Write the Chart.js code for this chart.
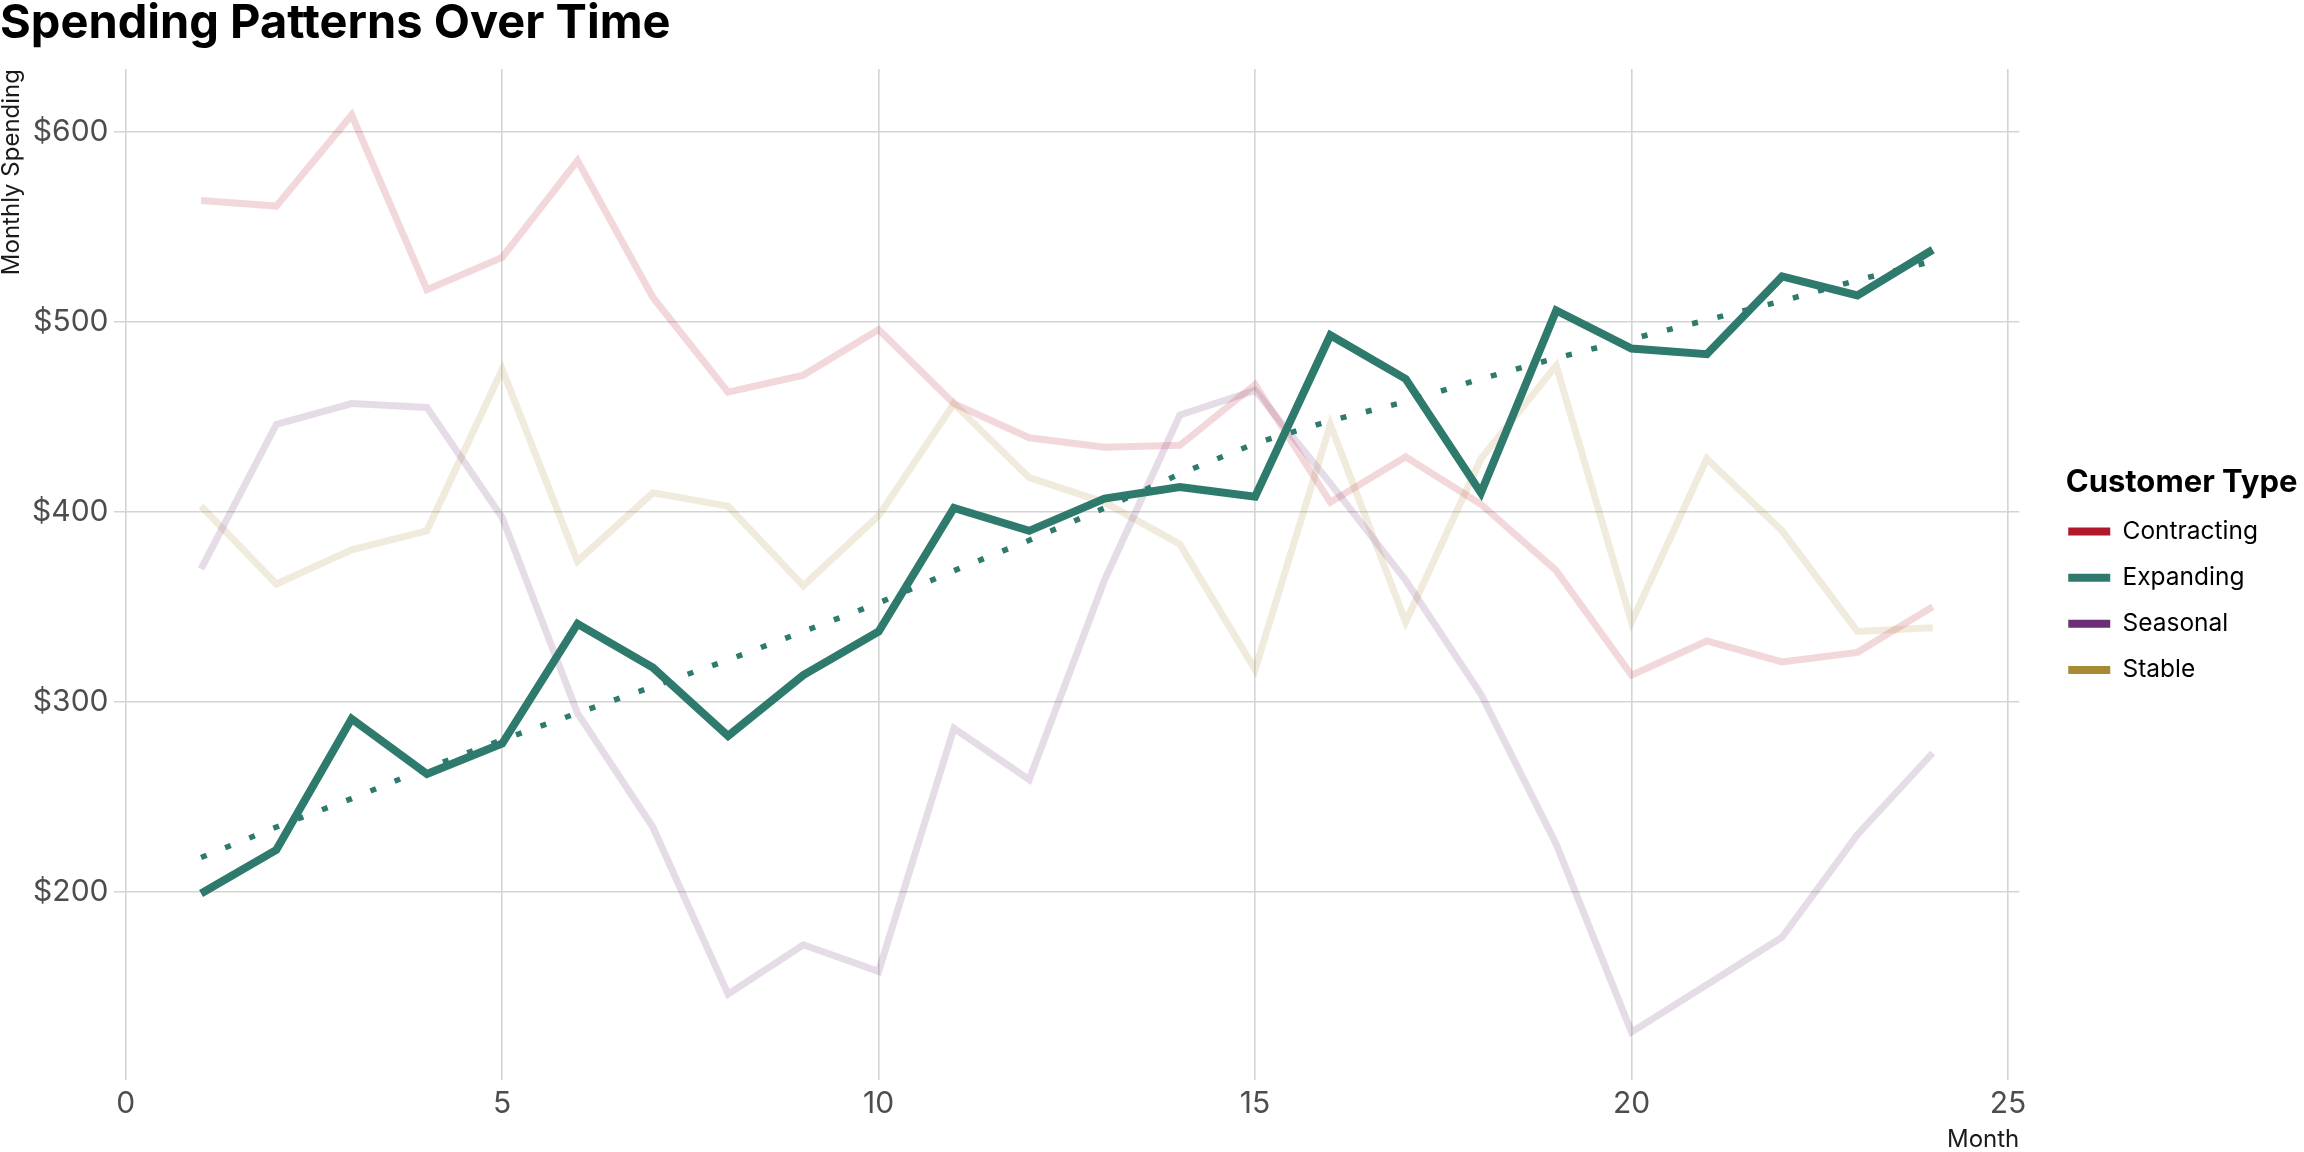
<!DOCTYPE html>
<html>
<head>
<meta charset="utf-8">
<script src="https://cdn.jsdelivr.net/npm/chart.js@4.4.1/dist/chart.umd.min.js"></script>
<style>
  body { margin: 0; background: #fff; }
</style>
</head>
<body>
<canvas id="chart" width="2304" height="1152"></canvas>
<script>
const months = [1, 2, 3, 4, 5, 6, 7, 8, 9, 10, 11, 12, 13, 14, 15, 16, 17, 18, 19, 20, 21, 22, 23, 24];

const contracting = [564, 561, 609, 517, 534, 585, 513, 463, 472, 496, 457, 439, 434, 435, 467, 405, 429, 404, 369, 314, 332, 321, 326, 350];
const expanding = [199, 222, 291, 262, 278, 341, 318, 282, 314, 337, 402, 390, 407, 413, 408, 493, 470, 410, 506, 486, 483, 524, 514, 538];
const seasonal = [370, 446, 457, 455, 397, 294, 234, 146, 172, 158, 286, 259, 364, 451, 464, 415, 364, 304, 225, 126, 151, 176, 230, 273];
const stable = [403, 362, 380, 390, 475, 374, 410, 403, 361, 398, 457, 418, 405, 383, 317, 446, 342, 428, 477, 342, 428, 390, 337, 339];
// smoothed trend of the expanding group (dotted line)
const expandingTrend = [218, 234, 249, 265, 280, 294, 308, 322, 337, 352, 369, 385, 402, 420, 436, 448, 458, 470, 481, 491, 501, 511, 522, 532];

const groups = ["Contracting", "Expanding", "Seasonal", "Stable"];
const groupValues = [contracting, expanding, seasonal, stable];
const groupColors = ["#b2182b", "#2e7b6e", "#6a2f77", "#a78a34"];
const fadedColors = [
  "rgba(178,24,43,0.17)",
  "rgba(46,123,110,1)",
  "rgba(106,47,119,0.17)",
  "rgba(167,138,52,0.17)",
];

const xTicks = [0, 5, 10, 15, 20, 25];
const yTicks = [200, 300, 400, 500, 600];

Chart.defaults.font.family = "Inter";
Chart.defaults.color = "#4d4d4d";

const toPoints = (vals) => months.map((m, i) => ({ x: m, y: vals[i] }));

const datasets = groups.map((name, i) => ({
  label: name,
  data: toPoints(groupValues[i]),
  borderColor: fadedColors[i],
  borderWidth: name === "Expanding" ? 8 : 7,
  pointRadius: 0,
  order: name === "Expanding" ? 1 : 2 + i,
}));

datasets.push({
  label: "Expanding trend",
  data: toPoints(expandingTrend),
  borderColor: groupColors[1],
  borderWidth: 5.5,
  borderDash: [6, 20],
  borderCapStyle: "butt",
  pointRadius: 0,
  order: 0,
});

// legend box is clipped in v4, make it wide enough for its bold title
const widerLegend = {
  id: "widerLegend",
  beforeInit(chart) {
    const fit = chart.legend.fit;
    chart.legend.fit = function () {
      fit.call(this);
      this.width += 30;
    };
  },
};

const ctx = document.getElementById("chart");

new Chart(ctx, {
  type: "line",
  data: { datasets },
  plugins: [widerLegend],
  options: {
    responsive: false,
    animation: false,
    devicePixelRatio: 1,
    layout: {
      padding: { left: 0, right: 6, top: 0, bottom: 0 },
    },
    scales: {
      x: {
        type: "linear",
        min: -0.15,
        max: 25.15,
        afterBuildTicks: (axis) => {
          axis.ticks = xTicks.map((v) => ({ value: v }));
        },
        ticks: {
          font: { size: 30 },
          color: "#4d4d4d",
          padding: 6,
        },
        grid: { color: "#d4d4d4", lineWidth: 1.6, drawTicks: false },
        border: { display: false },
        title: {
          display: true,
          text: "Month",
          align: "end",
          color: "#1a1a1a",
          font: { size: 24, lineHeight: 1 },
          padding: { top: 0, bottom: 0 },
        },
      },
      y: {
        min: 100.8,
        max: 633.2,
        afterBuildTicks: (axis) => {
          axis.ticks = yTicks.map((v) => ({ value: v }));
        },
        ticks: {
          font: { size: 30 },
          color: "#4d4d4d",
          padding: 6,
          callback: (v) => "$" + v,
        },
        grid: { color: "#d4d4d4", lineWidth: 1.6, drawTicks: false },
        border: { display: false },
        title: {
          display: true,
          text: "Monthly Spending",
          align: "end",
          color: "#1a1a1a",
          font: { size: 24, lineHeight: 1 },
          padding: { top: 0, bottom: 2 },
        },
      },
      // empty spacer between the plot and the legend
      gap: {
        type: "linear",
        position: "right",
        grid: { display: false },
        border: { display: false },
        ticks: { display: false },
        afterFit: (axis) => {
          axis.width = 46;
        },
      },
    },
    plugins: {
      title: {
        display: true,
        text: "Spending Patterns Over Time",
        align: "start",
        color: "#000",
        font: { size: 47, weight: "bold", lineHeight: 1 },
        padding: { top: 0, bottom: 22 },
      },
      legend: {
        position: "right",
        align: "center",
        title: {
          display: true,
          text: "Customer Type",
          color: "#000",
          font: { size: 31, weight: "bold" },
          padding: { top: 19, bottom: 12 },
        },
        labels: {
          boxWidth: 42,
          boxHeight: 8,
          padding: 3,
          color: "#1a1a1a",
          font: { size: 24.5, lineHeight: 1.76 },
          generateLabels: () =>
            groups.map((name, i) => ({
              text: [name],
              fillStyle: groupColors[i],
              strokeStyle: groupColors[i],
              lineWidth: 0,
              hidden: false,
              datasetIndex: i,
            })),
        },
      },
      tooltip: { enabled: false },
    },
  },
});
</script>
</body>
</html>
